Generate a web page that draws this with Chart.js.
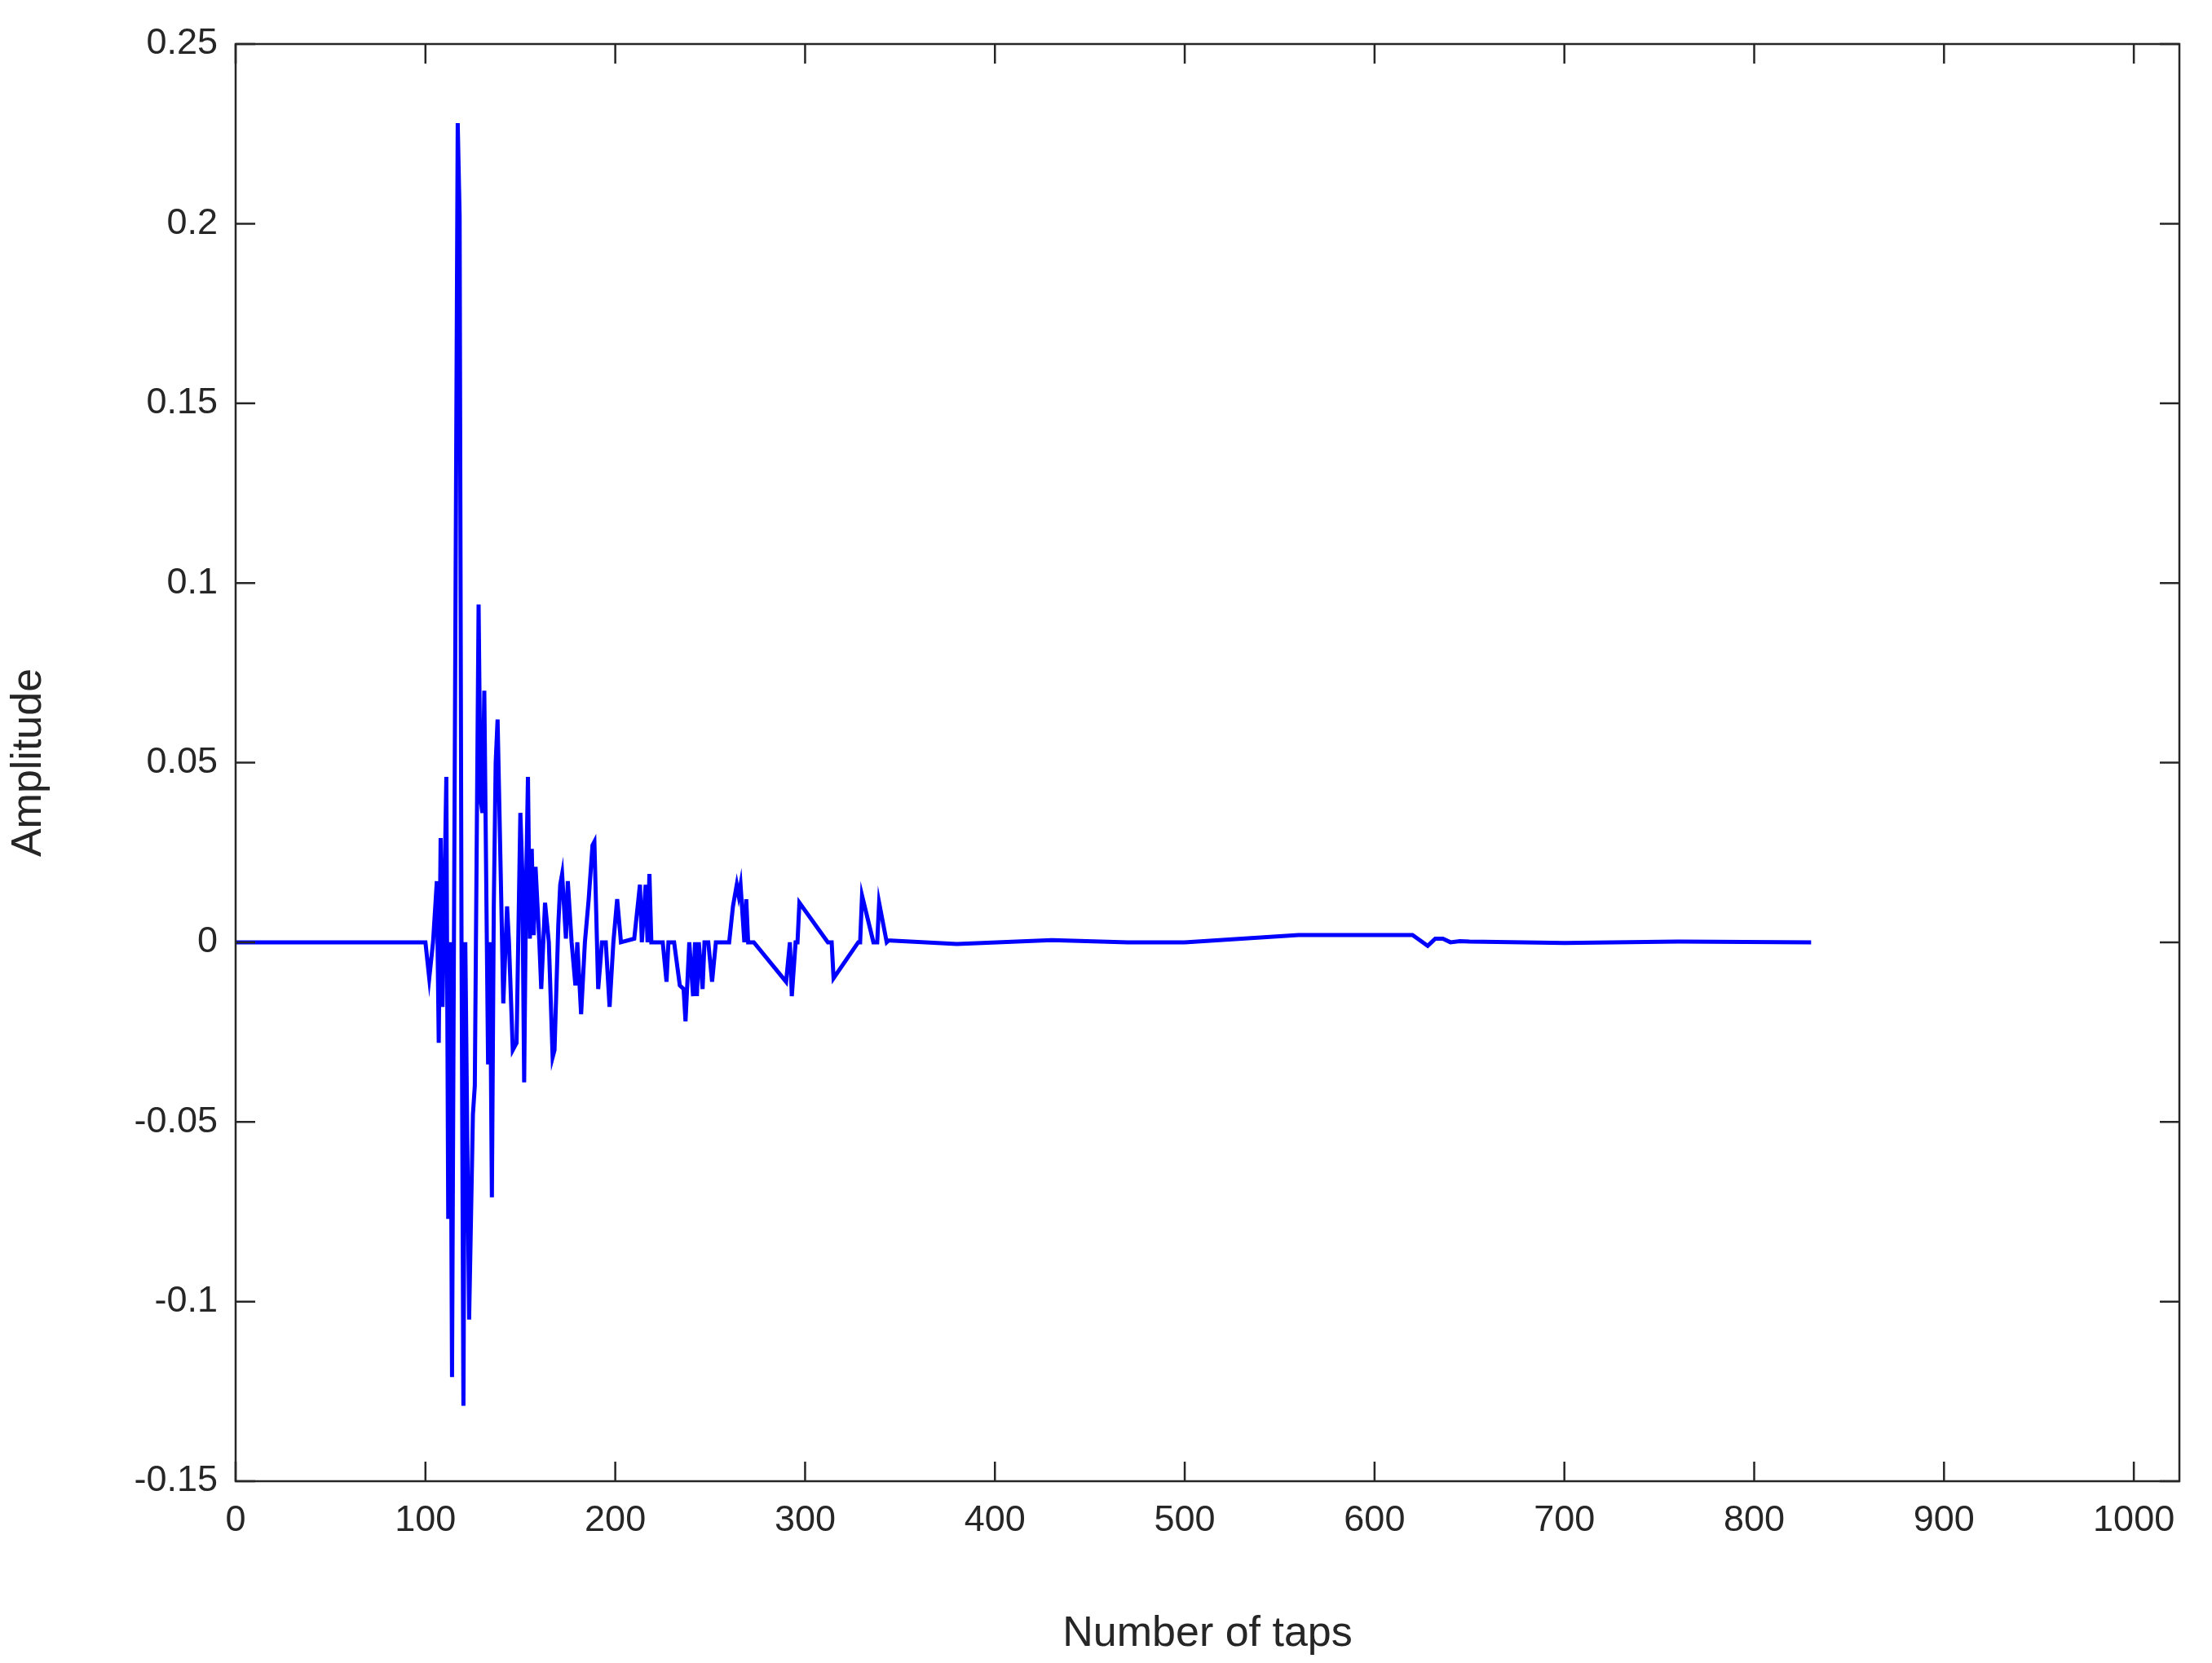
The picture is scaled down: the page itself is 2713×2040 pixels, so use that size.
<!DOCTYPE html>
<html><head><meta charset="utf-8">
<script src="https://cdn.jsdelivr.net/npm/chart.js@4"></script>
<style>html,body{margin:0;padding:0;background:#fff}#w{width:2713px;height:2040px}</style>
</head><body><div id="w"><canvas id="c"></canvas></div>
<script>
const taps = [0,100,102,104,106,107,108,109,111,112,113,114,115,117,118,119,120,121,123,125,126,128,129,130,131,133,134,135,136,137,138,140,141,143,144,146,148,150,151,152,153,154,155,156,157,158,160,161,163,165,167,168,170,171,172,174,175,177,179,180,182,184,186,188,189,191,193,195,197,199,201,203,210,213,214,216,217,218,219,225,227,228,231,234,236,237,239,241,242,243,244,246,247,249,251,253,260,262,264,265,266,268,269,270,272,273,290,292,293,295,296,297,312,314,315,328,329,330,336,338,339,343,344,345,380,430,470,500,560,620,628,630,632,636,640,645,650,700,760,830,900,1024];
const amplitude = [0,0,-0.01,0,0.017,-0.028,0.029,-0.018,0.046,-0.077,0,-0.121,0,0.228,0.202,0,-0.129,0,-0.105,-0.048,-0.04,0.094,0.04,0.036,0.07,-0.034,0,-0.071,0.01,0.05,0.062,0.01,-0.017,0.01,0,-0.03,-0.028,0.036,0.02,-0.039,0.015,0.046,0.001,0.026,0.002,0.021,0,-0.013,0.011,0,-0.032,-0.03,0.005,0.016,0.019,0.001,0.017,0,-0.012,0,-0.02,0,0.012,0.027,0.028,-0.013,0,0,-0.018,0,0.012,0,0.001,0.016,0,0.016,0,0.019,0,0,-0.011,0,0,-0.012,-0.013,-0.022,0,-0.015,0,-0.015,0,-0.013,0,0,-0.011,0,0,0.01,0.016,0.013,0.016,0,0.012,0,0,0,-0.011,0,-0.015,0,0,0.011,0,0,-0.01,0,0,0.013,0,0,0.011,0,0.0005,0.0005,-0.0005,0.0006,0,0,0.002,0.002,-0.001,0,0.001,0.001,0,0.0003,0.0002,-0.0002,0.0002,0];
const xTicks = [0,100,200,300,400,500,600,700,800,900,1000];
const yTicks = [-0.15,-0.1,-0.05,0,0.05,0.1,0.15,0.2,0.25];
const FONT = "'Liberation Sans', Arial, sans-serif";
const box = {id:'box', afterDraw(ch){
  const {ctx, chartArea:a, scales:{x,y}} = ch;
  ctx.save(); ctx.strokeStyle='#262626'; ctx.lineWidth=2.5;
  ctx.strokeRect(a.left,a.top,a.right-a.left,a.bottom-a.top);
  const L=24; ctx.beginPath();
  xTicks.forEach(t=>{const p=x.getPixelForValue(t);ctx.moveTo(p,a.bottom);ctx.lineTo(p,a.bottom-L);ctx.moveTo(p,a.top);ctx.lineTo(p,a.top+L);});
  yTicks.forEach(t=>{const p=y.getPixelForValue(t);ctx.moveTo(a.left,p);ctx.lineTo(a.left+L,p);ctx.moveTo(a.right,p);ctx.lineTo(a.right-L,p);});
  ctx.stroke(); ctx.restore();
}};
new Chart(document.getElementById('c'), {
  type:'line',
  data:{datasets:[{data:taps.map((t,i)=>({x:t,y:amplitude[i]})),borderColor:'#0000ff',borderWidth:5,pointRadius:0,tension:0}]},
  options:{responsive:true,maintainAspectRatio:false,animation:false,
    layout:{padding:{top:54,right:40,left:0,bottom:0}},
    plugins:{legend:{display:false},tooltip:{enabled:false}},
    scales:{
      x:{type:'linear',min:0,max:1024,
        afterBuildTicks(s){s.ticks=xTicks.map(v=>({value:v}));},
        afterFit(s){s.height=223;},
        grid:{display:false},border:{display:false},
        ticks:{font:{family:FONT,size:45},color:'#262626',maxRotation:0,padding:14,callback:v=>String(v)},
        title:{display:true,text:'Number of taps',font:{family:FONT,size:52},color:'#262626',padding:{top:6}}},
      y:{min:-0.15,max:0.25,
        afterBuildTicks(s){s.ticks=yTicks.map(v=>({value:v}));},
        afterFit(s){s.width=289;},
        grid:{display:false},border:{display:false},
        ticks:{font:{family:FONT,size:45},color:'#262626',padding:14,callback:v=>String(Math.round(v*100)/100)},
        title:{display:true,text:'Amplitude',font:{family:FONT,size:52},color:'#262626',padding:{bottom:20}}}
    }},
  plugins:[box]
});
</script></body></html>
